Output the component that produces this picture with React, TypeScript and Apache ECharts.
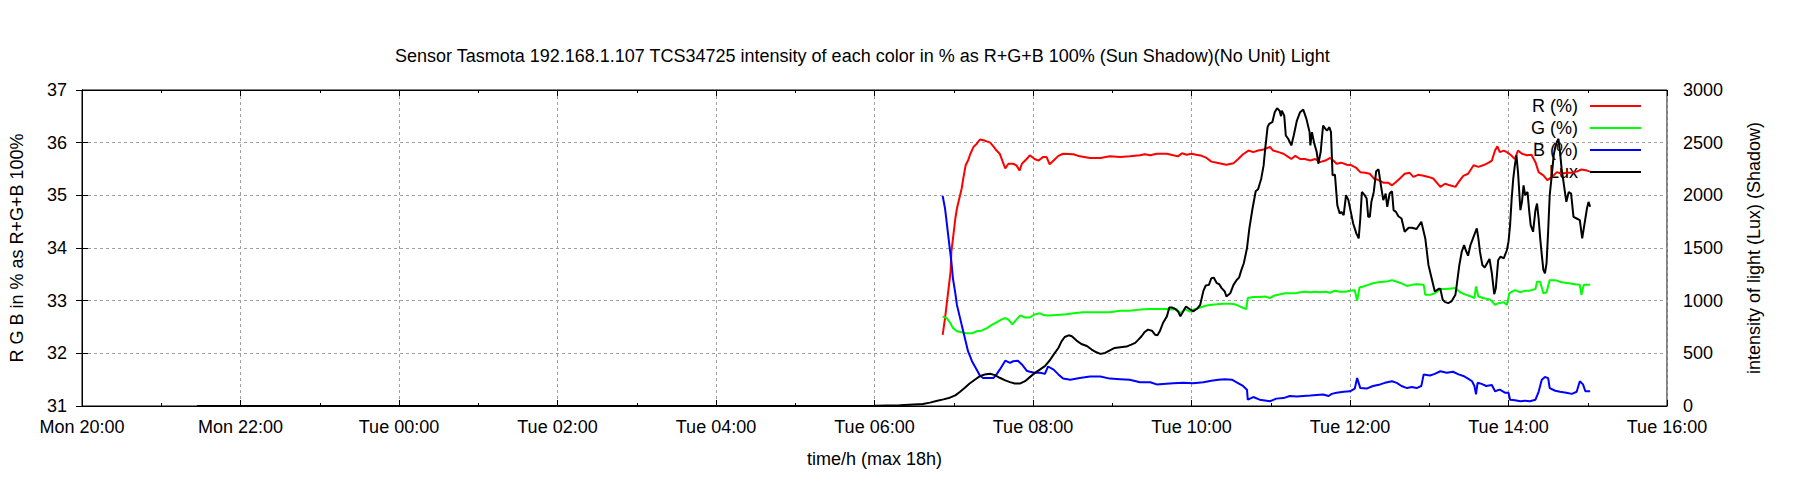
import React, { useEffect, useRef } from "react";
import * as echarts from "echarts";

const titleText =
  "Sensor Tasmota 192.168.1.107 TCS34725 intensity of each color in % as R+G+B 100% (Sun Shadow)(No Unit) Light";
const xTitle = "time/h (max 18h)";
const yLeftTitle = "R G B in % as R+G+B 100%";
const yRightTitle = "intensity of light (Lux) (Shadow)";

// x = hours since Mon 20:00
const xTickLabels = [
  "Mon 20:00", "Mon 22:00", "Tue 00:00", "Tue 02:00", "Tue 04:00", "Tue 06:00",
  "Tue 08:00", "Tue 10:00", "Tue 12:00", "Tue 14:00", "Tue 16:00",
];

const seriesNames = ["R (%)", "G (%)", "B (%)", "Lux"];
const seriesColors = ["#ff0000", "#00ff00", "#0000ff", "#000000"];

const redData: [number, number][] = [
  [10.86, 32.35], [10.89, 32.67], [10.93, 33.17], [10.96, 33.55], [10.97, 33.93], [10.99, 34.18],
  [11.02, 34.56], [11.04, 34.75], [11.07, 34.94], [11.10, 35.13], [11.12, 35.32], [11.15, 35.57],
  [11.18, 35.66], [11.21, 35.79], [11.25, 35.92], [11.29, 35.98], [11.33, 36.06], [11.39, 36.04],
  [11.46, 36.00], [11.50, 35.93], [11.54, 35.85], [11.58, 35.79], [11.62, 35.63], [11.65, 35.51],
  [11.69, 35.60], [11.75, 35.60], [11.79, 35.57], [11.83, 35.47], [11.86, 35.60], [11.92, 35.69],
  [11.96, 35.76], [12.02, 35.69], [12.07, 35.66], [12.13, 35.73], [12.17, 35.73], [12.21, 35.59],
  [12.26, 35.66], [12.32, 35.75], [12.38, 35.79], [12.51, 35.78], [12.59, 35.74], [12.72, 35.71],
  [12.85, 35.71], [12.97, 35.74], [13.10, 35.73], [13.22, 35.74], [13.35, 35.76], [13.41, 35.78],
  [13.48, 35.76], [13.56, 35.79], [13.69, 35.79], [13.77, 35.76], [13.83, 35.74], [13.88, 35.80],
  [13.94, 35.77], [14.00, 35.79], [14.06, 35.77], [14.13, 35.75], [14.19, 35.71], [14.25, 35.64],
  [14.32, 35.62], [14.38, 35.60], [14.44, 35.58], [14.53, 35.61], [14.59, 35.69], [14.65, 35.78],
  [14.72, 35.85], [14.78, 35.82], [14.84, 35.85], [14.91, 35.87], [14.99, 35.92], [15.03, 35.85],
  [15.10, 35.82], [15.16, 35.79], [15.22, 35.73], [15.26, 35.69], [15.31, 35.75], [15.37, 35.69],
  [15.43, 35.69], [15.50, 35.66], [15.56, 35.69], [15.62, 35.63], [15.69, 35.66], [15.75, 35.71],
  [15.79, 35.66], [15.83, 35.60], [15.89, 35.62], [15.96, 35.58], [16.02, 35.57], [16.08, 35.52],
  [16.13, 35.44], [16.19, 35.43], [16.25, 35.41], [16.30, 35.32], [16.36, 35.29], [16.42, 35.24],
  [16.48, 35.24], [16.53, 35.19], [16.57, 35.24], [16.63, 35.32], [16.69, 35.41], [16.75, 35.43],
  [16.80, 35.35], [16.86, 35.39], [16.93, 35.37], [16.99, 35.35], [17.05, 35.32], [17.09, 35.25],
  [17.14, 35.16], [17.20, 35.22], [17.26, 35.19], [17.33, 35.16], [17.37, 35.25], [17.43, 35.37],
  [17.49, 35.41], [17.56, 35.57], [17.62, 35.54], [17.68, 35.57], [17.75, 35.62], [17.79, 35.66],
  [17.83, 35.85], [17.86, 35.93], [17.89, 35.82], [17.94, 35.85], [17.98, 35.82], [18.04, 35.75],
  [18.08, 35.69], [18.12, 35.85], [18.17, 35.79], [18.23, 35.76], [18.29, 35.77], [18.34, 35.63],
  [18.38, 35.44], [18.44, 35.38], [18.49, 35.29], [18.55, 35.35], [18.61, 35.44], [18.67, 35.41],
  [18.73, 35.43], [18.80, 35.43], [18.86, 35.45], [18.92, 35.49], [18.99, 35.47], [19.03, 35.45],
];

const greenData: [number, number][] = [
  [10.86, 32.70], [10.91, 32.67], [10.95, 32.59], [10.99, 32.48], [11.04, 32.42], [11.10, 32.40],
  [11.16, 32.38], [11.23, 32.38], [11.29, 32.42], [11.35, 32.43], [11.42, 32.48], [11.48, 32.54],
  [11.54, 32.59], [11.60, 32.64], [11.65, 32.67], [11.69, 32.64], [11.74, 32.55], [11.79, 32.64],
  [11.84, 32.72], [11.90, 32.68], [11.96, 32.68], [12.02, 32.74], [12.09, 32.76], [12.13, 32.73],
  [12.19, 32.72], [12.30, 32.73], [12.42, 32.74], [12.51, 32.76], [12.63, 32.78], [12.76, 32.78],
  [12.85, 32.78], [12.97, 32.78], [13.10, 32.81], [13.22, 32.81], [13.35, 32.83], [13.48, 32.84],
  [13.60, 32.84], [13.69, 32.84], [13.75, 32.83], [13.81, 32.84], [13.86, 32.76], [13.92, 32.84],
  [13.98, 32.79], [14.04, 32.84], [14.11, 32.87], [14.17, 32.90], [14.23, 32.92], [14.32, 32.93],
  [14.40, 32.94], [14.49, 32.94], [14.55, 32.93], [14.61, 32.89], [14.69, 32.84], [14.71, 33.05],
  [14.78, 33.07], [14.86, 33.07], [14.93, 33.08], [14.99, 33.05], [15.05, 33.10], [15.12, 33.12],
  [15.18, 33.14], [15.24, 33.14], [15.31, 33.14], [15.37, 33.16], [15.43, 33.17], [15.50, 33.16],
  [15.56, 33.17], [15.62, 33.16], [15.69, 33.17], [15.75, 33.15], [15.81, 33.19], [15.87, 33.17],
  [15.94, 33.17], [16.00, 33.19], [16.06, 33.20], [16.09, 33.00], [16.12, 33.25], [16.17, 33.27],
  [16.23, 33.30], [16.29, 33.33], [16.36, 33.35], [16.42, 33.36], [16.48, 33.37], [16.53, 33.39],
  [16.59, 33.36], [16.65, 33.33], [16.72, 33.28], [16.78, 33.30], [16.84, 33.31], [16.93, 33.30],
  [16.95, 33.11], [17.01, 33.11], [17.07, 33.14], [17.14, 33.22], [17.22, 33.22], [17.33, 33.24],
  [17.39, 33.16], [17.45, 33.12], [17.51, 33.09], [17.57, 33.05], [17.59, 33.27], [17.62, 33.08],
  [17.68, 33.05], [17.77, 33.02], [17.83, 32.92], [17.87, 32.95], [17.94, 32.97], [17.98, 32.92],
  [18.01, 33.14], [18.08, 33.20], [18.15, 33.16], [18.21, 33.19], [18.27, 33.19], [18.34, 33.22],
  [18.36, 33.36], [18.40, 33.36], [18.44, 33.14], [18.48, 33.16], [18.52, 33.39], [18.59, 33.39],
  [18.67, 33.35], [18.76, 33.33], [18.84, 33.31], [18.90, 33.30], [18.92, 33.11], [18.95, 33.30],
  [19.03, 33.30],
];

const blueData: [number, number][] = [
  [10.86, 34.99], [10.89, 34.75], [10.91, 34.50], [10.93, 34.24], [10.95, 33.99], [10.97, 33.74],
  [10.99, 33.42], [11.02, 33.14], [11.04, 32.92], [11.07, 32.73], [11.10, 32.54], [11.14, 32.29],
  [11.18, 32.04], [11.23, 31.85], [11.29, 31.69], [11.33, 31.58], [11.37, 31.53], [11.44, 31.53],
  [11.50, 31.53], [11.54, 31.60], [11.58, 31.69], [11.65, 31.86], [11.71, 31.82], [11.75, 31.85],
  [11.81, 31.86], [11.86, 31.79], [11.92, 31.67], [11.96, 31.65], [12.02, 31.63], [12.09, 31.63],
  [12.15, 31.61], [12.19, 31.75], [12.26, 31.69], [12.32, 31.60], [12.38, 31.52], [12.47, 31.50],
  [12.59, 31.53], [12.72, 31.56], [12.85, 31.56], [12.97, 31.52], [13.10, 31.51], [13.22, 31.50],
  [13.35, 31.45], [13.48, 31.45], [13.56, 31.41], [13.64, 31.42], [13.77, 31.43], [13.90, 31.44],
  [14.02, 31.43], [14.15, 31.45], [14.25, 31.48], [14.34, 31.50], [14.42, 31.51], [14.51, 31.50],
  [14.57, 31.45], [14.65, 31.38], [14.70, 31.31], [14.71, 31.12], [14.78, 31.17], [14.86, 31.12],
  [14.99, 31.09], [15.07, 31.14], [15.16, 31.15], [15.24, 31.19], [15.33, 31.18], [15.41, 31.19],
  [15.50, 31.20], [15.58, 31.21], [15.66, 31.22], [15.73, 31.19], [15.77, 31.23], [15.83, 31.25],
  [15.92, 31.27], [16.00, 31.28], [16.06, 31.33], [16.09, 31.53], [16.13, 31.34], [16.21, 31.33],
  [16.29, 31.38], [16.38, 31.41], [16.44, 31.44], [16.53, 31.47], [16.59, 31.44], [16.65, 31.38],
  [16.72, 31.34], [16.78, 31.36], [16.84, 31.34], [16.90, 31.38], [16.93, 31.60], [17.01, 31.58],
  [17.07, 31.61], [17.14, 31.66], [17.22, 31.63], [17.30, 31.65], [17.37, 31.60], [17.43, 31.57],
  [17.49, 31.52], [17.54, 31.47], [17.57, 31.38], [17.59, 31.22], [17.61, 31.44], [17.66, 31.42],
  [17.72, 31.38], [17.79, 31.40], [17.83, 31.28], [17.89, 31.31], [17.96, 31.25], [18.00, 31.25],
  [18.02, 31.12], [18.08, 31.11], [18.15, 31.09], [18.21, 31.10], [18.27, 31.09], [18.34, 31.12],
  [18.38, 31.27], [18.42, 31.50], [18.46, 31.55], [18.50, 31.53], [18.52, 31.34], [18.59, 31.29],
  [18.65, 31.27], [18.73, 31.25], [18.80, 31.23], [18.86, 31.27], [18.90, 31.47], [18.94, 31.41],
  [18.97, 31.28], [19.03, 31.28],
];

const luxData: [number, number][] = [
  [1.45, 0], [3.0, 0], [5.0, 0], [7.0, 0], [9.5, 0], [10.0, 2], [10.32, 7], [10.61, 19],
  [10.70, 32], [10.78, 47], [10.87, 63], [10.95, 79], [11.02, 101], [11.08, 135], [11.14, 173],
  [11.20, 214], [11.27, 252], [11.33, 284], [11.39, 299], [11.46, 306], [11.52, 293], [11.58, 268],
  [11.65, 243], [11.71, 227], [11.77, 214], [11.84, 214], [11.90, 236], [11.96, 274], [12.02, 312],
  [12.09, 347], [12.15, 378], [12.21, 432], [12.26, 488], [12.32, 551], [12.36, 614], [12.40, 655],
  [12.45, 671], [12.49, 662], [12.55, 621], [12.61, 589], [12.68, 570], [12.74, 536], [12.80, 510],
  [12.85, 495], [12.91, 504], [12.97, 529], [13.03, 551], [13.10, 558], [13.18, 564], [13.24, 583],
  [13.29, 599], [13.33, 630], [13.37, 662], [13.41, 703], [13.45, 725], [13.50, 715], [13.54, 677],
  [13.57, 671], [13.60, 709], [13.64, 788], [13.69, 851], [13.72, 936], [13.75, 936], [13.79, 923],
  [13.83, 898], [13.86, 851], [13.90, 904], [13.93, 945], [13.97, 923], [14.02, 898], [14.07, 923],
  [14.11, 961], [14.15, 1093], [14.18, 1144], [14.22, 1150], [14.25, 1213], [14.28, 1219],
  [14.32, 1166], [14.35, 1156], [14.38, 1119], [14.42, 1087], [14.44, 1040], [14.49, 1071],
  [14.53, 1150], [14.57, 1197], [14.60, 1219], [14.63, 1292], [14.66, 1355], [14.70, 1497],
  [14.73, 1686], [14.77, 1875], [14.81, 2039], [14.84, 2058], [14.88, 2158], [14.91, 2284],
  [14.93, 2442], [14.96, 2647], [14.98, 2678], [15.02, 2694], [15.05, 2789], [15.08, 2826],
  [15.11, 2804], [15.13, 2751], [15.14, 2804], [15.17, 2757], [15.19, 2568], [15.22, 2537],
  [15.26, 2474], [15.29, 2568], [15.33, 2710], [15.37, 2789], [15.41, 2814], [15.45, 2726],
  [15.49, 2600], [15.50, 2474], [15.52, 2600], [15.55, 2489], [15.58, 2411], [15.60, 2300],
  [15.63, 2411], [15.66, 2663], [15.69, 2631], [15.71, 2615], [15.74, 2647], [15.76, 2600],
  [15.78, 2190], [15.81, 2196], [15.84, 1906], [15.87, 1828], [15.89, 1843], [15.92, 1812],
  [15.95, 2001], [15.98, 1954], [16.01, 1843], [16.04, 1733], [16.08, 1639], [16.11, 1591],
  [16.13, 1780], [16.15, 2032], [16.18, 2007], [16.21, 1969], [16.23, 1796], [16.25, 1796],
  [16.27, 1938], [16.30, 2032], [16.33, 2228], [16.36, 2247], [16.39, 2095], [16.42, 1954],
  [16.45, 2017], [16.47, 1891], [16.50, 2017], [16.53, 2039], [16.55, 1859], [16.58, 1843],
  [16.61, 1802], [16.65, 1780], [16.69, 1654], [16.74, 1692], [16.78, 1692], [16.84, 1680],
  [16.90, 1749], [16.95, 1591], [16.99, 1339], [17.03, 1213], [17.07, 1087], [17.12, 1112],
  [17.14, 1112], [17.17, 1008], [17.20, 986], [17.24, 977], [17.28, 993], [17.33, 1056],
  [17.35, 1166], [17.38, 1339], [17.41, 1465], [17.44, 1528], [17.46, 1481], [17.49, 1427],
  [17.52, 1528], [17.56, 1607], [17.60, 1686], [17.62, 1591], [17.64, 1465], [17.67, 1339],
  [17.70, 1314], [17.73, 1355], [17.76, 1396], [17.79, 1260], [17.82, 1062], [17.84, 1119],
  [17.87, 1386], [17.90, 1418], [17.94, 1402], [17.98, 1481], [18.00, 1560], [18.02, 1717],
  [18.04, 1969], [18.06, 2158], [18.08, 2284], [18.10, 2379], [18.12, 2221], [18.15, 1859],
  [18.17, 1938], [18.19, 2095], [18.21, 2001], [18.24, 2032], [18.26, 1859], [18.28, 1717],
  [18.31, 1654], [18.34, 1859], [18.36, 1922], [18.38, 1780], [18.40, 1591], [18.42, 1434],
  [18.44, 1292], [18.46, 1260], [18.48, 1355], [18.50, 1654], [18.52, 2001], [18.55, 2221],
  [18.57, 2379], [18.59, 2458], [18.61, 2505], [18.63, 2537], [18.65, 2411], [18.67, 2253],
  [18.70, 2095], [18.73, 1938], [18.76, 2032], [18.79, 2017], [18.82, 1796], [18.86, 1780],
  [18.90, 1764], [18.93, 1591], [18.95, 1686], [18.99, 1875], [19.01, 1938], [19.03, 1891],
];

const FONT = "'Liberation Sans', Arial, sans-serif";
const FS = 18;

export default function App() {
  const ref = useRef<HTMLDivElement>(null);
  useEffect(() => {
    if (!ref.current) return;
    const chart = echarts.init(ref.current, undefined, { renderer: "svg" });
    const dataSets = [redData, greenData, blueData, luxData];
    const gridLine = { show: true, lineStyle: { color: "#a0a0a0", width: 1, type: [3, 3] as any } };
    chart.setOption({
      animation: false,
      backgroundColor: "#ffffff",
      textStyle: { fontFamily: FONT, color: "#000" },
      title: {
        text: titleText,
        left: 395,
        top: 47,
        padding: 0,
        textStyle: { fontFamily: FONT, fontSize: FS, fontWeight: "normal", color: "#000" },
      },
      legend: {
        orient: "vertical",
        right: 154,
        top: 92,
        align: "right",
        icon: "rect",
        itemWidth: 51,
        itemHeight: 2,
        itemGap: 4,
        z: 1,
        selectedMode: false,
        textStyle: {
          fontFamily: FONT,
          fontSize: FS,
          lineHeight: 18,
          color: "#000",
          padding: [0, 7, 0, 0],
        },
        data: seriesNames,
      },
      grid: {
        left: 82,
        right: 133,
        top: 90,
        bottom: 94,
        show: true,
        borderColor: "#000",
        borderWidth: 1,
        backgroundColor: "transparent",
      },
      xAxis: [
        {
          type: "value",
          min: 0,
          max: 20,
          interval: 2,
          position: "bottom",
          name: xTitle,
          nameLocation: "middle",
          nameGap: 44,
          nameTextStyle: { fontFamily: FONT, fontSize: FS, color: "#000" },
          axisLine: { show: true, onZero: false, lineStyle: { color: "#000", width: 1 } },
          axisTick: { show: true, inside: true, length: 6, lineStyle: { color: "#000" } },
          minorTick: { show: true, splitNumber: 2, length: 3, lineStyle: { color: "#000" } },
          axisLabel: {
            margin: 12,
            fontFamily: FONT,
            fontSize: FS,
            color: "#000",
            formatter: (v: number) => xTickLabels[Math.round(v / 2)] ?? "",
          },
          splitLine: gridLine,
        },
        {
          type: "value",
          min: 0,
          max: 20,
          interval: 2,
          position: "top",
          axisLine: { show: true, onZero: false, lineStyle: { color: "#000", width: 1 } },
          axisTick: { show: true, inside: true, length: 6, lineStyle: { color: "#000" } },
          minorTick: { show: true, splitNumber: 2, length: 3, lineStyle: { color: "#000" } },
          axisLabel: { show: false },
          splitLine: { show: false },
        },
      ],
      yAxis: [
        {
          type: "value",
          min: 31,
          max: 37,
          interval: 1,
          position: "left",
          name: yLeftTitle,
          nameLocation: "middle",
          nameRotate: 90,
          nameGap: 56,
          nameTextStyle: { fontFamily: FONT, fontSize: FS, color: "#000" },
          axisLine: { show: true, lineStyle: { color: "#000", width: 1 } },
          axisTick: { show: true, inside: true, length: 6, lineStyle: { color: "#000" } },
          axisLabel: { margin: 15, fontFamily: FONT, fontSize: FS, color: "#000" },
          splitLine: gridLine,
        },
        {
          type: "value",
          min: 0,
          max: 3000,
          interval: 500,
          position: "right",
          name: yRightTitle,
          nameLocation: "middle",
          nameRotate: 90,
          nameGap: 78,
          nameTextStyle: { fontFamily: FONT, fontSize: FS, color: "#000" },
          axisLine: { show: true, lineStyle: { color: "#000", width: 1 } },
          axisTick: { show: true, inside: true, length: 6, lineStyle: { color: "#000" } },
          axisLabel: {
            margin: 16,
            fontFamily: FONT,
            fontSize: FS,
            color: "#000",
            formatter: (v: number) => String(v),
          },
          splitLine: { show: false },
        },
      ],
      series: seriesNames.map((name, i) => ({
        name,
        type: "line",
        xAxisIndex: 0,
        yAxisIndex: i === 3 ? 1 : 0,
        data: dataSets[i],
        showSymbol: false,
        symbol: "none",
        smooth: false,
        z: 3,
        lineStyle: { color: seriesColors[i], width: 2 },
        itemStyle: { color: seriesColors[i] },
      })),
    });
    return () => chart.dispose();
  }, []);
  return (
    <div
      ref={ref}
      style={{ position: "absolute", left: 0, top: 0, width: 1800, height: 500, background: "#fff" }}
    />
  );
}
